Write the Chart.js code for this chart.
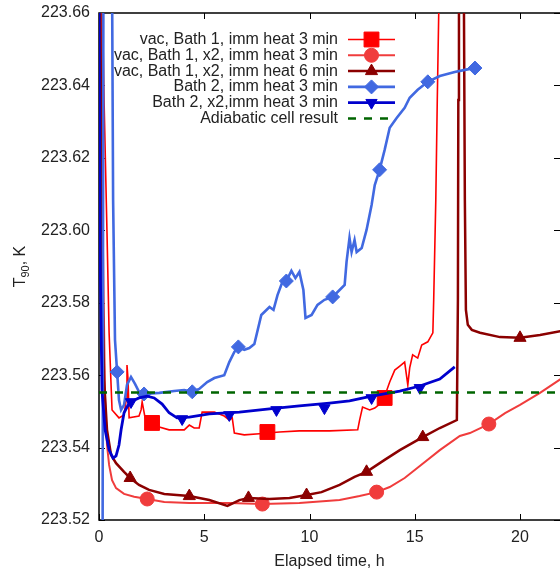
<!DOCTYPE html>
<html>
<head>
<meta charset="utf-8">
<script src="https://cdn.jsdelivr.net/npm/chart.js@4.4.1/dist/chart.umd.min.js"></script>
<style>
  html, body { margin: 0; padding: 0; background: #fff; overflow: hidden; }
  canvas { display: block; }
</style>
</head>
<body>
<canvas id="grafica" width="560" height="569" style="width:560px;height:569px"></canvas>
<script>
const xTicks = [0, 5, 10, 15, 20];
const yTicks = [223.52, 223.54, 223.56, 223.58, 223.60, 223.62, 223.64, 223.66];

const labels = [
  'vac, Bath 1, imm heat 3 min',
  'vac, Bath 1, x2, imm heat 3 min',
  'vac, Bath 1, x2, imm heat 6 min',
  'Bath 2, imm heat 3 min',
  'Bath 2, x2,imm heat 3 min',
  'Adiabatic cell result'
];

// vac, Bath 1, imm heat 3 min
const b1X = [0.14, 0.24, 0.38, 0.48, 0.57, 0.62, 0.95, 1.19, 1.29, 1.33, 1.38, 1.43, 1.90, 2.00, 2.05, 2.14, 2.19, 2.38, 2.86, 3.33,
  4.05, 4.29, 4.52, 4.76, 4.90, 5.48, 5.95, 6.19, 6.33, 6.43, 6.90, 7.62, 8.57, 9.52, 10.95, 12.29, 12.38, 12.52, 12.86, 13.10,
  13.33, 13.57, 13.81, 14.05, 14.29, 14.52, 14.67, 14.76, 14.90, 15.14, 15.33, 15.62, 15.86, 15.90, 16.00, 16.07, 16.14, 16.19];
const b1Y = [223.67, 223.6360, 223.5993, 223.5717, 223.5578, 223.5504, 223.5482, 223.5490, 223.5531, 223.5628, 223.5587, 223.5482,
  223.5487, 223.5504, 223.5526, 223.5498, 223.5482, 223.5476, 223.5457, 223.5449, 223.5449, 223.5462, 223.5454, 223.5454,
  223.5498, 223.5498, 223.5487, 223.5476, 223.5482, 223.5440, 223.5435, 223.5438, 223.5443, 223.5446, 223.5446, 223.5449,
  223.5476, 223.5512, 223.5504, 223.5509, 223.5520, 223.5542, 223.5581, 223.5614, 223.5625, 223.5636, 223.5573, 223.5620,
  223.5656, 223.5647, 223.5683, 223.5692, 223.5717, 223.5808, 223.6084, 223.6360, 223.6603, 223.67];
const b1MarkX = [2.52, 8.00, 13.57];
const b1MarkY = [223.5468, 223.5443, 223.5537];

// vac, Bath 1, x2, imm heat 3 min
const b1x2X = [0.10, 0.19, 0.29, 0.38, 0.48, 0.62, 0.81, 1.19, 1.67, 2.29, 3.10, 4.29, 6.19, 7.76, 9.52, 11.43, 12.38, 13.19,
  13.81, 14.52, 15.24, 16.19, 17.14, 17.62, 18.52, 19.29, 20.00, 20.95, 22.00];
const b1x2Y = [223.67, 223.5946, 223.5531, 223.5407, 223.5352, 223.5310, 223.5288, 223.5272, 223.5264, 223.5258, 223.5250,
  223.5247, 223.5247, 223.5244, 223.5247, 223.5255, 223.5266, 223.5277, 223.5291, 223.5316, 223.5349, 223.5393, 223.5432,
  223.5440, 223.5465, 223.5495, 223.5518, 223.5551, 223.5592];
const b1x2MarkX = [2.29, 7.76, 13.19, 18.52];
const b1x2MarkY = [223.5258, 223.5244, 223.5277, 223.5465];

// vac, Bath 1, x2, imm heat 6 min
const b1x6X = [0.05, 0.14, 0.24, 0.38, 0.57, 0.81, 1.19, 1.48, 1.90, 2.38, 3.10, 4.29, 5.24, 6.10, 6.67, 7.10, 8.10, 9.05, 9.86,
  10.57, 11.43, 12.14, 12.71, 13.57, 14.29, 15.38, 16.19, 17.00, 17.05, 17.07, 17.10, 17.20, 17.33, 17.38, 17.43, 17.52, 17.71,
  18.10, 19.05, 20.00, 20.95, 22.00];
const b1x6Y = [223.67, 223.5946, 223.5587, 223.5449, 223.5380, 223.5357, 223.5333, 223.5316, 223.5297, 223.5283, 223.5272,
  223.5266, 223.5255, 223.5239, 223.5255, 223.5261, 223.5258, 223.5261, 223.5269, 223.5277, 223.5297, 223.5319, 223.5333,
  223.5366, 223.5393, 223.5429, 223.5454, 223.5476, 223.5808, 223.6360, 223.67, 223.68, 223.67, 223.6084, 223.5780, 223.5739,
  223.5725, 223.5717, 223.5705, 223.5703, 223.5711, 223.5722];
const b1x6MarkX = [1.48, 4.29, 7.10, 9.86, 12.71, 15.38, 20.00];
const b1x6MarkY = [223.5316, 223.5266, 223.5261, 223.5269, 223.5333, 223.5429, 223.5703];

// Bath 2, imm heat 3 min
const b2X = [0.17, 0.21, 0.62, 0.67, 0.76, 0.86, 0.95, 1.05, 1.19, 1.33, 1.52, 1.71, 1.90, 2.14, 2.86, 3.57, 4.05, 4.43, 4.76,
  5.14, 5.48, 5.95, 6.19, 6.43, 6.62, 6.90, 7.14, 7.38, 7.71, 8.10, 8.29, 8.48, 8.71, 8.90, 9.14, 9.33, 9.52, 9.71, 9.81, 10.10,
  10.38, 10.71, 11.10, 11.43, 11.67, 11.76, 11.90, 12.00, 12.14, 12.24, 12.48, 12.71, 12.95, 13.10, 13.33, 13.57, 13.81, 14.14,
  14.52, 14.76, 15.14, 15.62, 16.19, 16.90, 17.38, 17.86];
const b2Y = [223.51, 223.67, 223.67, 223.6084, 223.5697, 223.5609, 223.5531, 223.5504, 223.5518, 223.5573, 223.5595, 223.5576,
  223.5554, 223.5548, 223.5551, 223.5556, 223.5559, 223.5554, 223.5562, 223.5581, 223.5592, 223.5600, 223.5636, 223.5664,
  223.5678, 223.5670, 223.5675, 223.5686, 223.5766, 223.5788, 223.5780, 223.5821, 223.5857, 223.5860, 223.5888, 223.5868,
  223.5885, 223.5835, 223.5758, 223.5766, 223.5794, 223.5808, 223.5816, 223.5835, 223.5849, 223.5913, 223.5979, 223.5940,
  223.5973, 223.5940, 223.5951, 223.6001, 223.6070, 223.6125, 223.6167, 223.6222, 223.6283, 223.6310, 223.6338, 223.6366,
  223.6388, 223.6410, 223.6426, 223.6437, 223.6443, 223.6448];
const b2MarkX = [0.86, 2.14, 4.43, 6.62, 8.90, 11.10, 13.33, 15.62, 17.86];
const b2MarkY = [223.5609, 223.5548, 223.5554, 223.5678, 223.5860, 223.5816, 223.6167, 223.6410, 223.6448];

// Bath 2, x2,imm heat 3 min
const b2x2X = [0.00, 0.05, 0.14, 0.29, 0.48, 0.67, 0.81, 0.95, 1.05, 1.19, 1.43, 1.67, 1.90, 2.29, 2.62, 3.00, 3.33, 3.71, 4.29,
  5.24, 6.67, 8.10, 9.52, 10.95, 11.90, 12.95, 14.29, 15.24, 16.19, 16.90];
const b2x2Y = [223.67, 223.5946, 223.5559, 223.5449, 223.5393, 223.5371, 223.5377, 223.5407, 223.5449, 223.5496, 223.5523,
  223.5531, 223.5537, 223.5542, 223.5537, 223.5520, 223.5496, 223.5482, 223.5484, 223.5493, 223.5498, 223.5507, 223.5515,
  223.5523, 223.5529, 223.5542, 223.5556, 223.5570, 223.5589, 223.5623];
const b2x2MarkX = [1.52, 3.95, 6.19, 8.43, 10.71, 12.95, 15.24];
const b2x2MarkY = [223.5526, 223.5479, 223.5490, 223.5504, 223.5509, 223.5537, 223.5565];

// Adiabatic cell result
const adiabaticX = [0, 22];
const adiabaticY = [223.5552, 223.5552];

const fuente = '"Liberation Sans", Arial, sans-serif';

const series = [
  { x: b1X, y: b1Y, mx: b1MarkX, my: b1MarkY, color: '#ff0000', width: 1.6, style: 'rect', radius: 10.5, rotation: 0 },
  { x: b1x2X, y: b1x2Y, mx: b1x2MarkX, my: b1x2MarkY, color: '#f03c3c', width: 2, style: 'circle', radius: 7, rotation: 0 },
  { x: b1x6X, y: b1x6Y, mx: b1x6MarkX, my: b1x6MarkY, color: '#8b0000', width: 2.5, style: 'triangle', radius: 7, rotation: 0 },
  { x: b2X, y: b2Y, mx: b2MarkX, my: b2MarkY, color: '#4169e1', width: 2.6, style: 'rectRot', radius: 7, rotation: 0 },
  { x: b2x2X, y: b2x2Y, mx: b2x2MarkX, my: b2x2MarkY, color: '#0000cd', width: 2.8, style: 'triangle', radius: 6.5, rotation: 180 },
  { x: adiabaticX, y: adiabaticY, color: '#006400', width: 2.5, dash: [8, 8] }
];

const toPts = (xs, ys) => xs.map((v, i) => ({ x: v, y: ys[i] }));

const datasets = [];
series.forEach((s, i) => {
  datasets.push({
    label: labels[i],
    data: toPts(s.x, s.y),
    borderColor: s.color,
    borderWidth: s.width,
    borderDash: s.dash || [],
    pointRadius: 0,
    tension: 0,
    clip: 0,
    order: 100 - 2 * i
  });
  if (s.mx) {
    datasets.push({
      label: labels[i] + ' marks',
      data: toPts(s.mx, s.my),
      showLine: false,
      pointStyle: s.style,
      pointRadius: s.radius,
      pointRotation: s.rotation,
      pointBackgroundColor: s.color,
      pointBorderColor: s.color,
      pointBorderWidth: 1,
      order: 99 - 2 * i
    });
  }
});

// frame with inward ticks, gnuplot style
const marco = {
  id: 'marco',
  beforeDatasetsDraw(chart) {
    const { ctx, chartArea: a, scales: { x, y } } = chart;
    ctx.save();
    ctx.strokeStyle = '#000';
    ctx.lineWidth = 1;
    ctx.beginPath();
    xTicks.forEach(v => {
      const px = Math.round(x.getPixelForValue(v)) + 0.5;
      ctx.moveTo(px, a.bottom); ctx.lineTo(px, a.bottom - 6);
      ctx.moveTo(px, a.top); ctx.lineTo(px, a.top + 6);
    });
    yTicks.forEach(v => {
      const py = Math.round(y.getPixelForValue(v)) + 0.5;
      ctx.moveTo(a.left, py); ctx.lineTo(a.left + 6, py);
      ctx.moveTo(a.right, py); ctx.lineTo(a.right - 6, py);
    });
    ctx.stroke();
    ctx.lineWidth = 1.5;
    ctx.strokeRect(a.left, a.top, a.right - a.left + 2, a.bottom - a.top);

    // y title with subscript
    ctx.fillStyle = '#222';
    ctx.translate(21, (a.top + a.bottom) / 2);
    ctx.rotate(-Math.PI / 2);
    ctx.textBaseline = 'middle';
    ctx.font = '16px ' + fuente;
    const w1 = ctx.measureText('T').width;
    ctx.font = '11px ' + fuente;
    const w2 = ctx.measureText('90').width;
    ctx.font = '16px ' + fuente;
    const w3 = ctx.measureText(', K').width;
    let cx = -(w1 + w2 + w3) / 2;
    ctx.textAlign = 'left';
    ctx.fillText('T', cx, 0);
    cx += w1;
    ctx.font = '11px ' + fuente;
    ctx.fillText('90', cx, 5);
    cx += w2;
    ctx.font = '16px ' + fuente;
    ctx.fillText(', K', cx, 0);
    ctx.restore();
  }
};

// legend: text right aligned, sample to the right
const leyenda = {
  id: 'leyenda',
  afterDatasetsDraw(chart) {
    const { ctx } = chart;
    ctx.save();
    series.forEach((s, i) => {
      const yRow = 39.5 + i * 15.8;
      ctx.font = '16px ' + fuente;
      ctx.fillStyle = '#222';
      ctx.textAlign = 'right';
      ctx.textBaseline = 'middle';
      ctx.fillText(labels[i], 338, yRow);
      ctx.strokeStyle = s.color;
      ctx.lineWidth = s.width;
      ctx.setLineDash(s.dash || []);
      ctx.beginPath();
      ctx.moveTo(348, yRow);
      ctx.lineTo(395, yRow);
      ctx.stroke();
      ctx.setLineDash([]);
      if (s.style) {
        ctx.fillStyle = s.color;
        ctx.strokeStyle = s.color;
        ctx.lineWidth = 1;
        Chart.helpers.drawPoint(ctx, { pointStyle: s.style, radius: s.radius, rotation: s.rotation, borderWidth: 1 }, 371.5, yRow);
      }
    });
    ctx.restore();
  }
};

new Chart(document.getElementById('grafica'), {
  type: 'line',
  data: { datasets },
  options: {
    responsive: false,
    animation: false,
    events: [],
    layout: { autoPadding: false, padding: { top: 13, right: 0, left: 0, bottom: 0 } },
    plugins: {
      legend: { display: false },
      tooltip: { enabled: false }
    },
    scales: {
      x: {
        type: 'linear',
        min: 0,
        max: 21.9,
        afterFit(scale) { scale.height = 49; scale.paddingLeft = 0; scale.paddingRight = 0; },
        afterBuildTicks(scale) { scale.ticks = xTicks.map(v => ({ value: v })); },
        grid: { display: false, drawTicks: false },
        border: { display: false },
        ticks: { padding: 8, color: '#222', font: { size: 16, family: fuente }, maxRotation: 0, callback: v => v },
        title: { display: true, text: 'Elapsed time, h', color: '#222', padding: { top: -2, bottom: -2 }, font: { size: 16, family: fuente } }
      },
      y: {
        min: 223.52,
        max: 223.66,
        afterFit(scale) { scale.width = 99; scale.paddingTop = 0; scale.paddingBottom = 0; },
        afterBuildTicks(scale) { scale.ticks = yTicks.map(v => ({ value: v })); },
        grid: { display: false, drawTicks: false },
        border: { display: false },
        ticks: { padding: 9, color: '#222', font: { size: 16, family: fuente }, callback: v => Number(v).toFixed(2) }
      }
    }
  },
  plugins: [marco, leyenda]
});
</script>
</body>
</html>
